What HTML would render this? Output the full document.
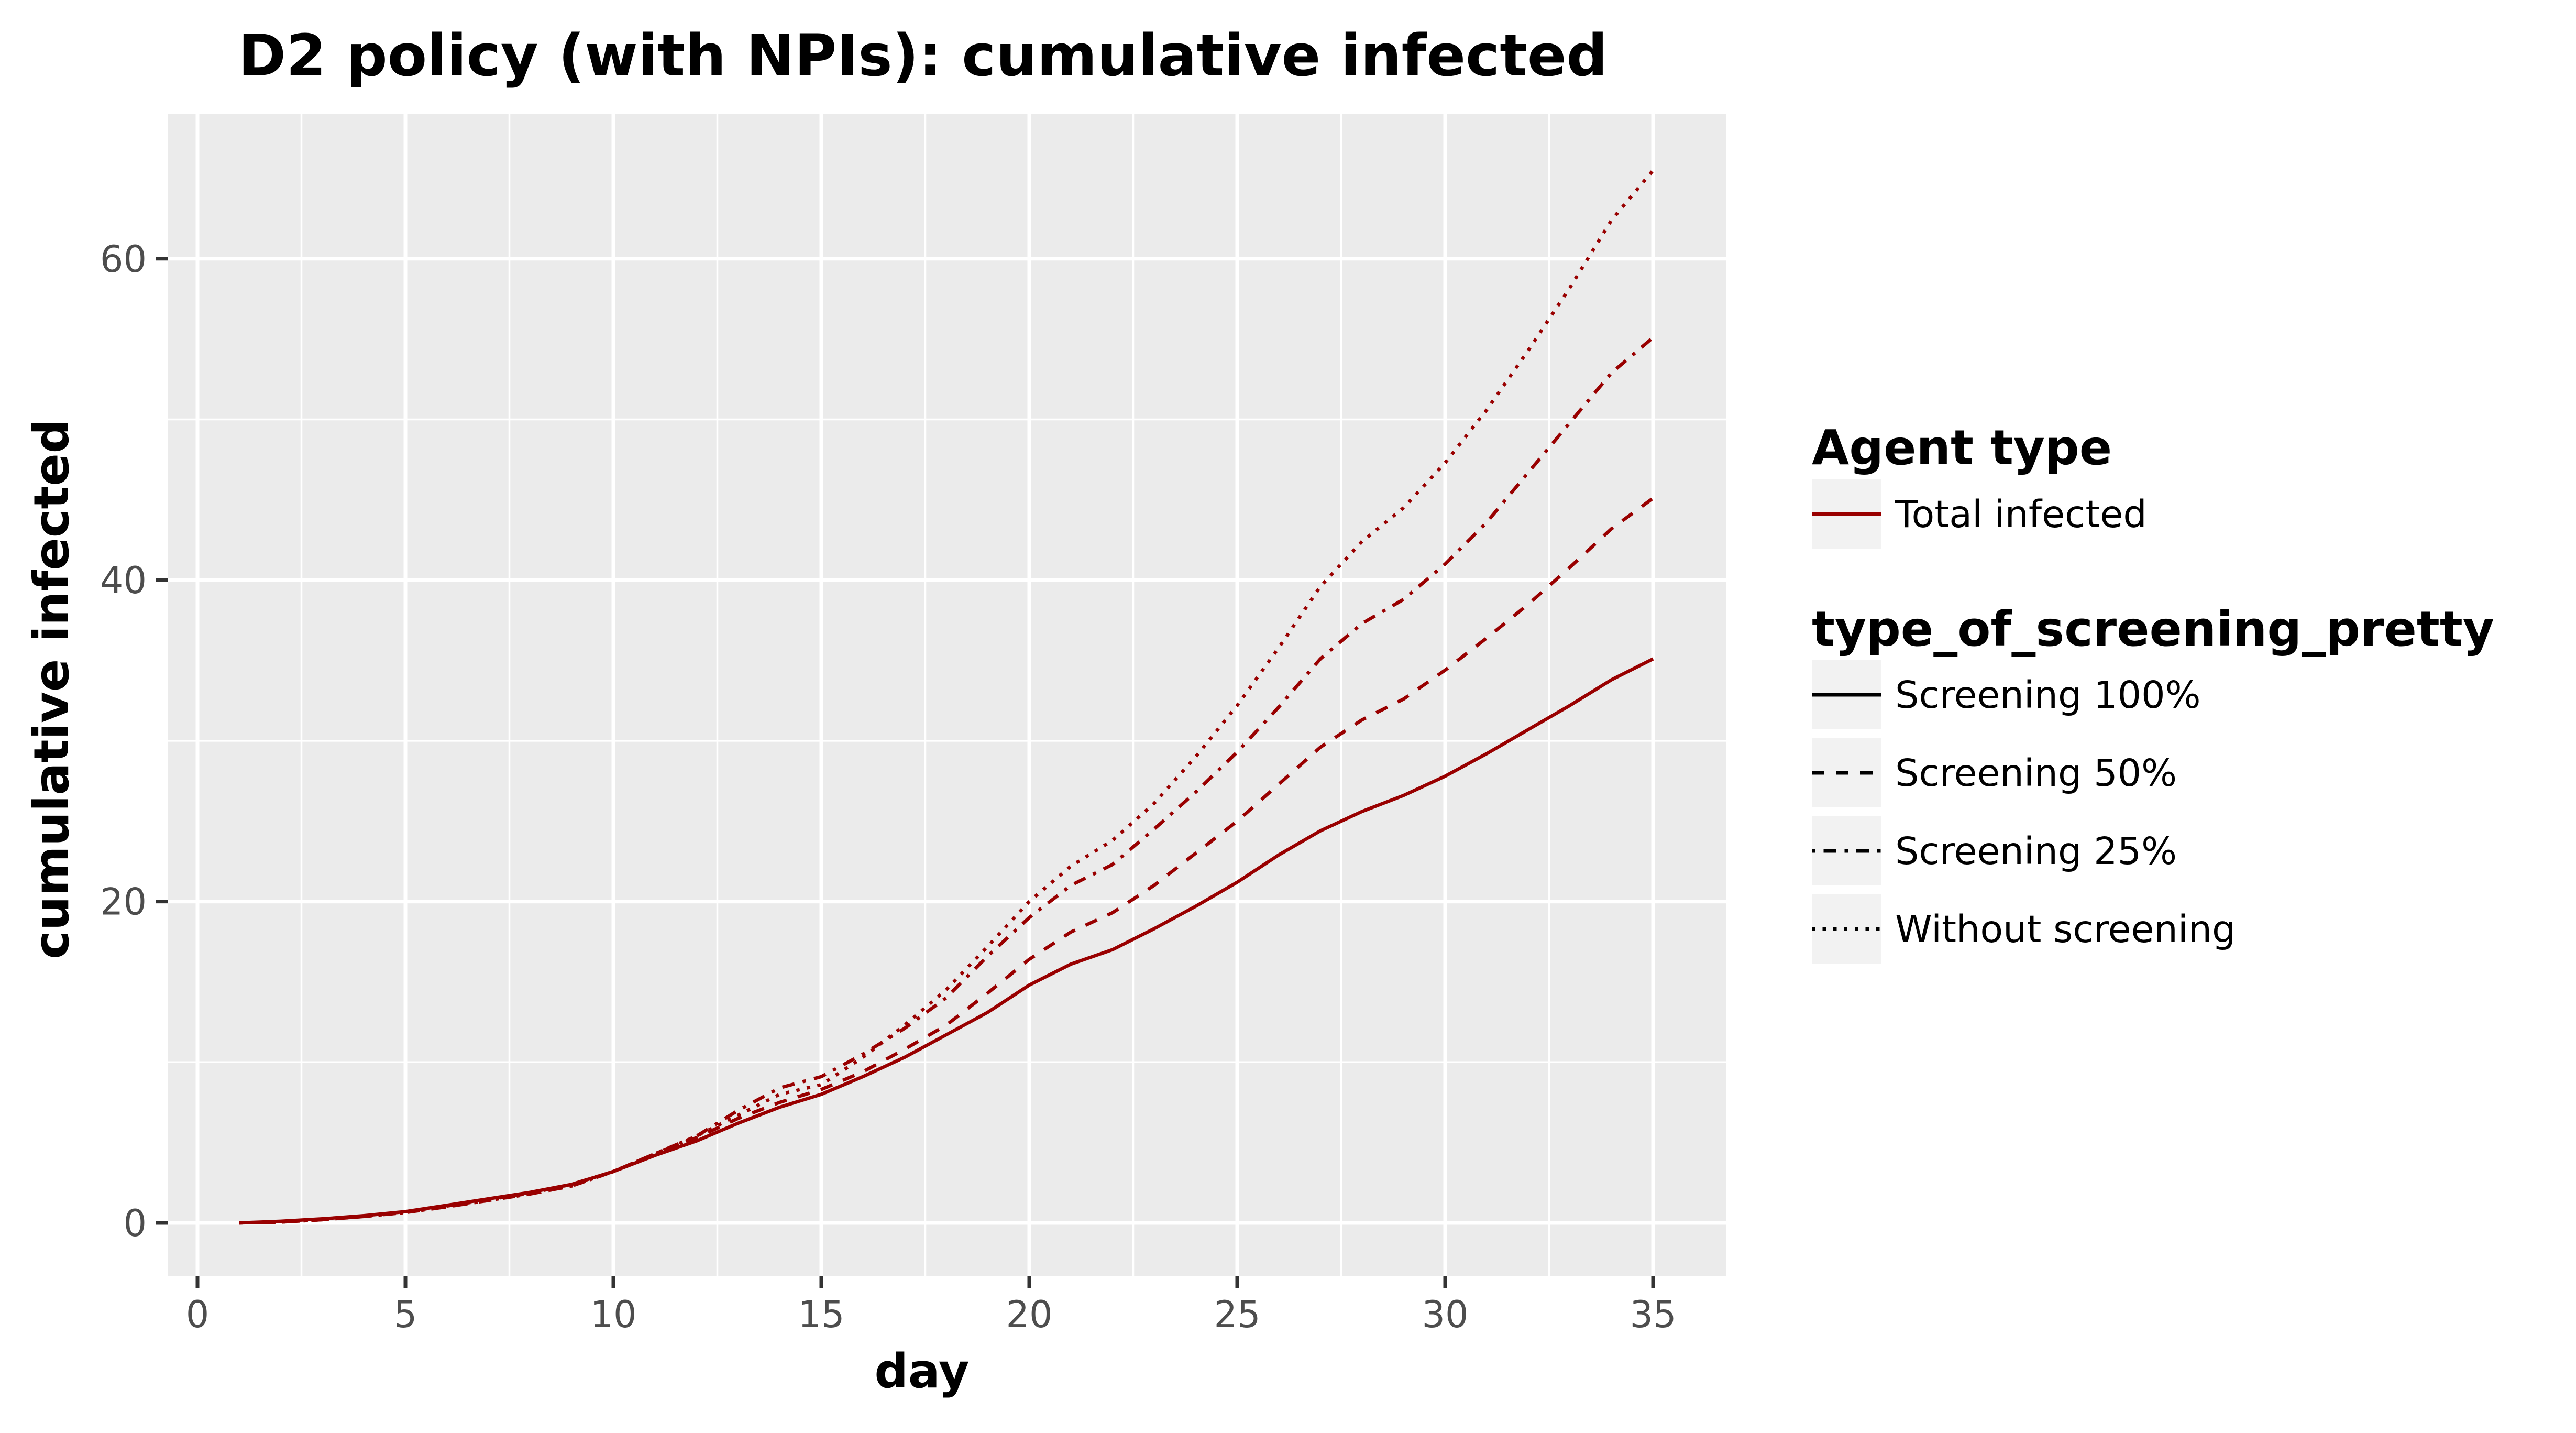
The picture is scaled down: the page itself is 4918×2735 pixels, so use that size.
<!DOCTYPE html>
<html><head><meta charset="utf-8"><style>
html,body{margin:0;padding:0;background:#fff;}
svg{display:block;font-family:"DejaVu Sans","Liberation Sans",sans-serif;}
</style></head><body>
<svg id="chart" width="4918" height="2735" viewBox="0 0 4918 2735" xmlns="http://www.w3.org/2000/svg">
<text x="1762" y="144" font-size="110" font-weight="bold" text-anchor="middle">D2 policy (with NPIs): cumulative infected</text>
<rect x="321" y="217" width="2975" height="2218" fill="#ebebeb"/>
<g id="grid"></g>
<g id="series"></g>
<g id="axes"></g>
<text x="1760" y="2648" font-size="90" font-weight="bold" text-anchor="middle">day</text>
<text transform="translate(130,1315) rotate(-90)" font-size="92" font-weight="bold" text-anchor="middle">cumulative infected</text>
<g>
<text x="3459" y="886" font-size="92" font-weight="bold">Agent type</text>
<rect x="3459" y="915" width="132" height="132" fill="#f2f2f2"/>
<line x1="3459" y1="981" x2="3591" y2="981" stroke="#990000" stroke-width="7"/>
<text x="3618" y="1006" font-size="71.5">Total infected</text>
<text x="3459" y="1232" font-size="92" font-weight="bold">type_of_screening_pretty</text>
<g id="legend2"></g>
</g>
</svg>
<script>
const days = [1,2,3,4,5,6,7,8,9,10,11,12,13,14,15,16,17,18,19,20,21,22,23,24,25,26,27,28,29,30,31,32,33,34,35];
const screening100 = [0,0.1,0.25,0.45,0.7,1.1,1.5,1.9,2.4,3.2,4.2,5.1,6.2,7.2,8.0,9.1,10.3,11.7,13.1,14.8,16.1,17.0,18.3,19.7,21.2,22.9,24.4,25.6,26.6,27.8,29.2,30.7,32.2,33.8,35.1];
const screening50 = [0,0.05,0.2,0.4,0.65,1.0,1.4,1.8,2.3,3.2,4.3,5.3,6.5,7.5,8.3,9.4,10.8,12.3,14.3,16.4,18.1,19.3,21.0,23.0,25.0,27.3,29.6,31.3,32.6,34.4,36.4,38.5,40.8,43.2,45.1];
const screening25 = [0,0.05,0.2,0.4,0.7,1.05,1.45,1.85,2.4,3.2,4.3,5.4,7.0,8.4,9.1,10.5,12.1,14.0,16.6,19.0,21.0,22.3,24.5,26.8,29.3,32.1,35.1,37.3,38.8,41.0,43.6,46.7,49.8,52.9,55.1];
const noScreening = [0,0.05,0.2,0.4,0.65,1.0,1.4,1.8,2.3,3.2,4.3,5.4,6.7,8.0,8.6,10.3,12.3,14.5,17.2,20.0,22.2,23.8,26.1,29.0,32.2,35.8,39.6,42.4,44.5,47.3,50.6,54.3,58.2,62.4,65.5];
const xTicks = [0,5,10,15,20,25,30,35];
const yTicks = [0,20,40,60];
const seriesNames = ["Screening 100%","Screening 50%","Screening 25%","Without screening"];

const NS = "http://www.w3.org/2000/svg";
const X = d => 377 + d*79.4;
const Y = v => 2334 - v*30.67;
const PL=321, PR=3296, PT=217, PB=2435;
const dashes = ["", "24 22", "6.5 16 24 16", "6.5 14"];
function mk(tag, attrs, parent){const e=document.createElementNS(NS,tag);for(const k in attrs)e.setAttribute(k,attrs[k]);parent.appendChild(e);return e;}
const grid=document.getElementById('grid'), axes=document.getElementById('axes'), ser=document.getElementById('series');
for(let i=0;i<xTicks.length-1;i++){const m=(xTicks[i]+xTicks[i+1])/2;
  const l=mk('line',{x1:X(m),x2:X(m),y1:PT,y2:PB,stroke:'#fff','stroke-width':3.5},grid);
  
  }
for(let i=0;i<yTicks.length-1;i++){const m=(yTicks[i]+yTicks[i+1])/2;
  const l=mk('line',{x1:PL,x2:PR,y1:Y(m),y2:Y(m),stroke:'#fff','stroke-width':3.5},grid);
  
  }
xTicks.forEach(t=>{
  const l=mk('line',{x1:X(t),x2:X(t),y1:PT,y2:PB,stroke:'#fff','stroke-width':7},grid);
  
  
  const tk=mk('line',{x1:X(t),x2:X(t),y1:PB,y2:PB+23,stroke:'#333','stroke-width':7},axes);
  
  
  const tx=mk('text',{x:X(t),y:2533,'font-size':70,fill:'#4d4d4d','text-anchor':'middle'},axes);
  tx.textContent=t;
  
  
});
yTicks.forEach(t=>{
  const l=mk('line',{x1:PL,x2:PR,y1:Y(t),y2:Y(t),stroke:'#fff','stroke-width':7},grid);
  
  
  const tk=mk('line',{x1:PL-23,x2:PL,y1:Y(t),y2:Y(t),stroke:'#333','stroke-width':7},axes);
  
  
  const tx=mk('text',{x:280,y:Y(t)+25,'font-size':70,fill:'#4d4d4d','text-anchor':'end'},axes);
  tx.textContent=t;
  
  
});
[screening100,screening50,screening25,noScreening].forEach((vals,i)=>{
  const d=vals.map((v,j)=>(j?'L':'M')+X(days[j]).toFixed(1)+','+Y(v).toFixed(1)).join(' ');
  const p=mk('path',{d:d,fill:'none',stroke:'#990000','stroke-width':6.5,'stroke-linejoin':'round','stroke-dasharray':dashes[i]||'none'},ser);
  
  
});
const lg=document.getElementById('legend2');
seriesNames.forEach((n,i)=>{
  const top=1260+i*149;
  const r=mk('rect',{x:3459,y:top,width:132,height:132,fill:'#f2f2f2'},lg);
  
  
  const l=mk('line',{x1:3459,x2:3591,y1:top+66,y2:top+66,stroke:'#000','stroke-width':7,'stroke-dasharray':dashes[i]||'none'},lg);
  
  
  const t=mk('text',{x:3618,y:top+91,'font-size':71.5},lg);
  t.textContent=n;
  
  
});
</script>
</body></html>
